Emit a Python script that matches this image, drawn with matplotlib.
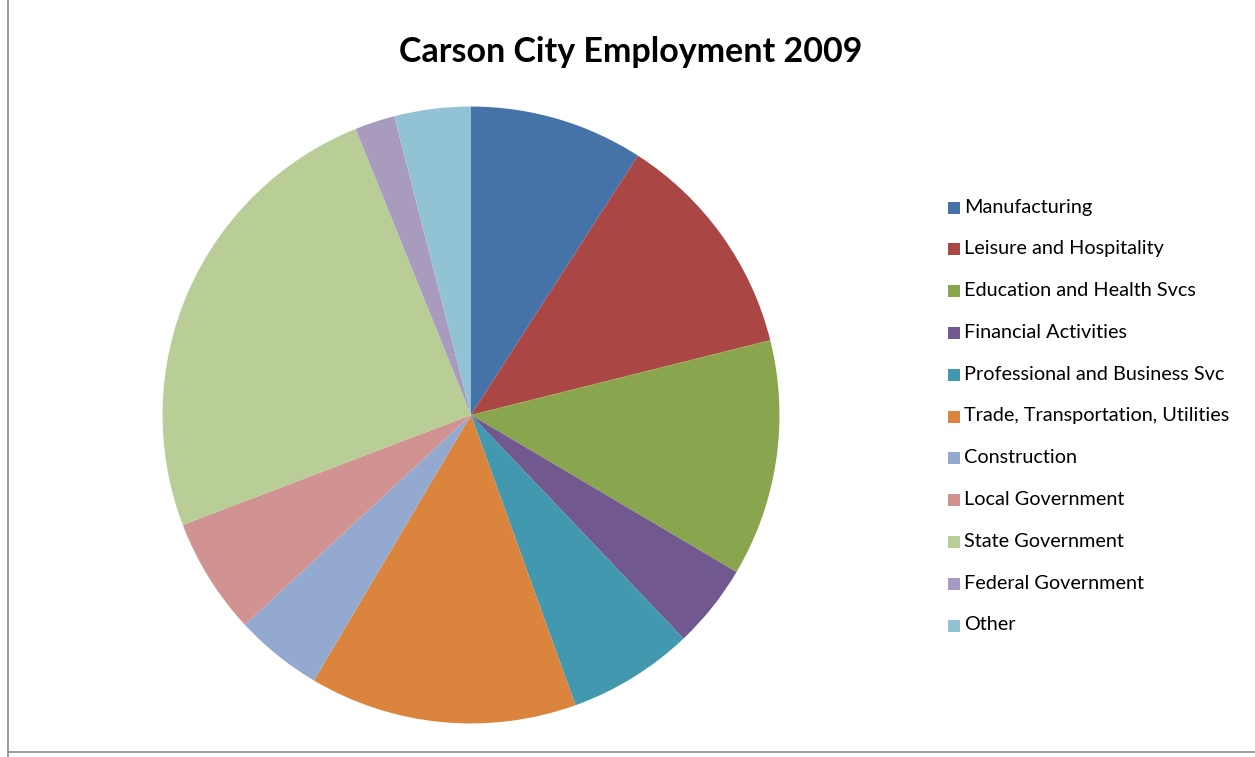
import matplotlib.pyplot as plt
from matplotlib.patches import Rectangle
from matplotlib.lines import Line2D

plt.rcParams['font.family'] = ['Lato', 'DejaVu Sans']

# sectors and share of employment (%)
sectors = ['Manufacturing', 'Leisure and Hospitality', 'Education and Health Svcs',
           'Financial Activities', 'Professional and Business Svc',
           'Trade, Transportation, Utilities', 'Construction', 'Local Government',
           'State Government', 'Federal Government', 'Other']
shares = [9.1, 12.0, 12.4, 4.4, 6.6, 14.0, 4.6, 6.1, 24.7, 2.1, 4.0]
colors = ['#4572A7', '#AA4643', '#89A54E', '#71588F', '#4198AF', '#DB843D',
          '#93A9CF', '#D19392', '#B9CD96', '#A99BBD', '#92C3D4']

W, H = 1255, 757
fig = plt.figure(figsize=(W / 100, H / 100), dpi=100)

# pie centre (471, 415), radius 310 px
cx, cy, r = 471, 415, 310
ax = fig.add_axes([(cx - r) / W, (H - cy - r) / H, 2 * r / W, 2 * r / H])
wedges, _ = ax.pie(shares, colors=colors, startangle=90, counterclock=False,
                   radius=1.0, wedgeprops=dict(linewidth=0))
ax.set_xlim(-1.005, 1.005)
ax.set_ylim(-1.005, 1.005)
ax.set_aspect('equal')
ax.axis('off')

fig.text(631 / W, 1 - 52 / H, 'Carson City Employment 2009', ha='center', va='center',
         fontsize=24.5, fontweight='bold')

# legend, one row every ~41.8 px
for i, (name, col) in enumerate(zip(sectors, colors)):
    y = 207 + i * 41.8
    fig.patches.append(Rectangle((948 / W, 1 - (y + 6.5) / H), 12 / W, 12 / H,
                                 transform=fig.transFigure, facecolor=col,
                                 edgecolor='none'))
    fig.text(964 / W, 1 - y / H, name, ha='left', va='center', fontsize=14.3)

# chart border (left and bottom visible)
fig.add_artist(Line2D([8 / W, 8 / W], [0, 1], color='#8c8c8c', lw=1.2,
                      transform=fig.transFigure))
fig.add_artist(Line2D([8 / W, 1], [1 - 752 / H, 1 - 752 / H], color='#8c8c8c', lw=1.2,
                      transform=fig.transFigure))

fig.savefig('out.png', dpi=100, facecolor='white')
